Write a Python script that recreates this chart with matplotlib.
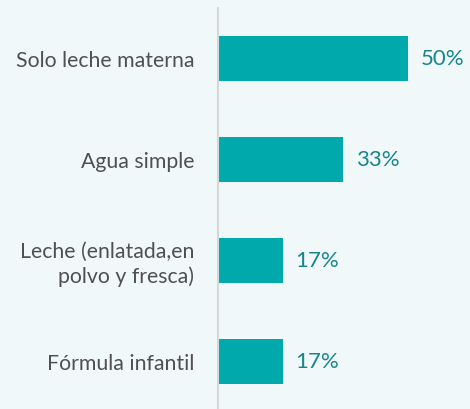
import numpy as np
import matplotlib.pyplot as plt

categorias = ['Solo leche materna', 'Agua simple',
              'Leche (enlatada,en\npolvo y fresca)', 'Fórmula infantil']
valores = [50, 33, 17, 17]
etiquetas = ['50%', '33%', '17%', '17%']

fondo = '#F1F8FA'
color_barra = '#00AAAC'

fig = plt.figure(figsize=(4.70, 4.09), dpi=100, facecolor=fondo)
ax = fig.add_axes([218/470, 0, 252/470, 401/409])
ax.set_facecolor(fondo)

y = np.arange(len(categorias))
ax.barh(y, valores, height=0.45, color=color_barra)

ax.set_xlim(0, 252/3.8)
ax.set_ylim(3.47, -0.5)

for yi, v, t in zip(y, valores, etiquetas):
    ax.text(v + 3.3, yi, t, va='center', ha='left', fontsize=16,
            color='#17868A', family='Lato')

ax.set_yticks(y)
ax.set_yticklabels(categorias, fontsize=15.3, color='#505050', family='Lato',
                   linespacing=1.25)
ax.tick_params(axis='y', length=0, pad=17)
ax.set_xticks([])

for s in ['top', 'right', 'bottom']:
    ax.spines[s].set_visible(False)
ax.spines['left'].set_color('#D3D8DA')
ax.spines['left'].set_linewidth(1.5)

fig.savefig('out.png', dpi=100, facecolor=fondo)
